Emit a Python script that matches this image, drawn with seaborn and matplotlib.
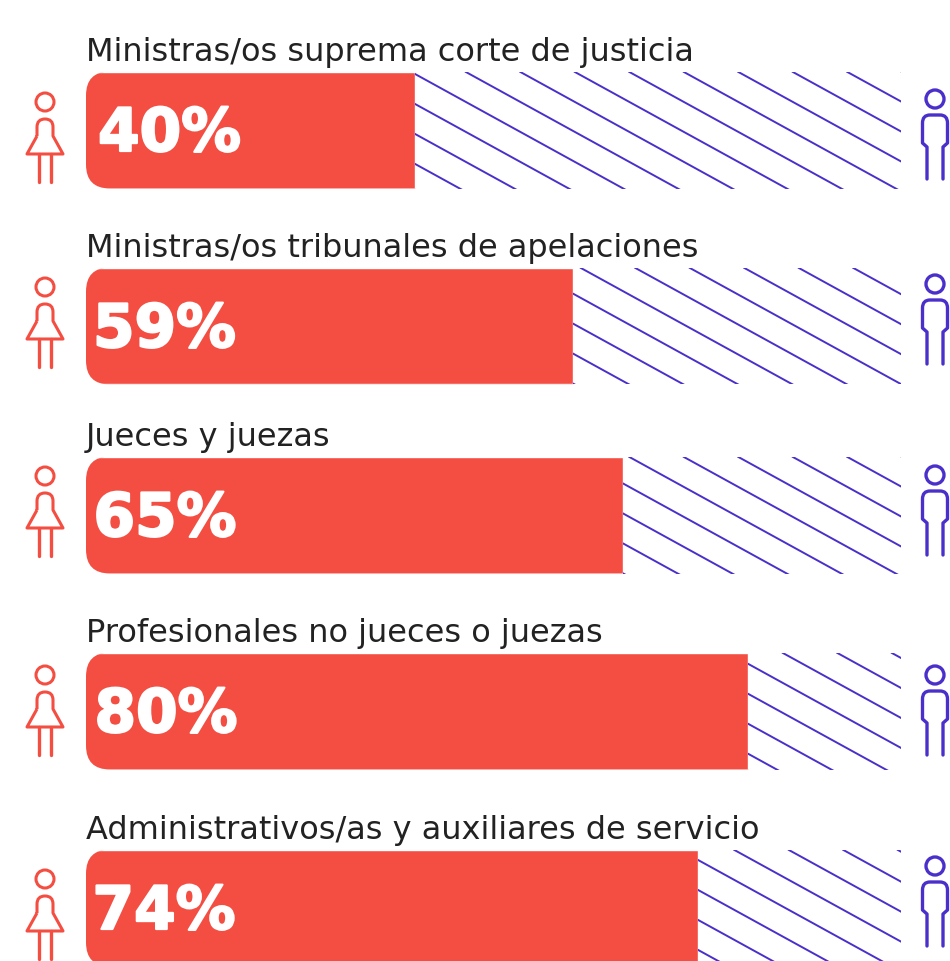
import numpy as np
import pandas as pd
import seaborn as sns
import matplotlib
matplotlib.use("Agg")
import matplotlib.pyplot as plt
import matplotlib.patheffects as pe
from matplotlib.patches import FancyBboxPatch, Circle, PathPatch
from matplotlib.path import Path

categories = ["Ministras/os suprema corte de justicia",
              "Ministras/os tribunales de apelaciones",
              "Jueces y juezas",
              "Profesionales no jueces o juezas",
              "Administrativos/as y auxiliares de servicio"]
women_pct = [40, 59, 65, 80, 74]

RED = "#F44E42"
BLUE = "#4B2FCB"
INK = "#222222"
W, H = 950, 962
bar_tops = [72.5, 268.5, 457.5, 653.5, 850.5]
bar_h = 117
hatch_phase = [465, 471, 465, 455, 461]
label_center = [169.5, 164.5, 165, 166, 164]
woman_head = [103, 288, 477, 676, 880]
man_head = [100, 285, 476, 676, 867]
PX_ZERO, PX_PER_PCT, AX_L, AX_R = 82, 8.325, 86, 902

sns.set_theme(style="white")
plt.rcParams["font.family"] = ["DejaVu Sans"]
fig = plt.figure(figsize=(W / 100, H / 100), dpi=100)
ov = fig.add_axes([0, 0, 1, 1], zorder=10)
ov.set_xlim(0, W); ov.set_ylim(H, 0); ov.axis("off"); ov.patch.set_alpha(0)


def woman(x, y):
    codes = [Path.MOVETO, Path.LINETO, Path.CURVE3, Path.CURVE3, Path.CURVE3, Path.CURVE3,
             Path.LINETO, Path.LINETO, Path.LINETO, Path.LINETO]
    verts = [(x - 8, y + 34), (x - 8, y + 25), (x - 8, y + 17), (x, y + 17), (x + 8, y + 17), (x + 8, y + 25),
             (x + 8, y + 34), (x + 18, y + 52), (x - 18, y + 52), (x - 8, y + 34)]
    ov.add_patch(PathPatch(Path(verts, codes), fc="none", ec=RED, lw=2.2, joinstyle="round"))
    ov.add_patch(Circle((x, y), 9, fc="none", ec=RED, lw=2.2))
    for dx in (-6, 6):
        ov.plot([x + dx, x + dx], [y + 52, y + 80], color=RED, lw=2.4, solid_capstyle="round")


def man(x, y):
    v = [(x - 8, y + 80), (x - 8, y + 48), (x - 12.5, y + 44), (x - 12.5, y + 24),
         (x - 12.5, y + 16), (x - 5, y + 16), (x + 5, y + 16), (x + 12.5, y + 16), (x + 12.5, y + 24),
         (x + 12.5, y + 44), (x + 8, y + 48), (x + 8, y + 80)]
    c = [Path.MOVETO, Path.LINETO, Path.LINETO, Path.LINETO, Path.CURVE3, Path.CURVE3, Path.LINETO,
         Path.CURVE3, Path.CURVE3, Path.LINETO, Path.LINETO, Path.LINETO]
    ov.add_patch(PathPatch(Path(v, c), fc="none", ec=BLUE, lw=2.4, capstyle="round", joinstyle="round"))
    ov.add_patch(Circle((x, y), 9, fc="none", ec=BLUE, lw=2.4))


for i, cat in enumerate(categories):
    top = bar_tops[i]
    ax = fig.add_axes([AX_L / W, 1 - (top + bar_h) / H, (AX_R - AX_L) / W, bar_h / H])
    df = pd.DataFrame({"cat": [cat], "pct": [women_pct[i]]})
    sns.barplot(data=df, x="pct", y="cat", orient="h", color=RED, saturation=1, width=1, ax=ax)
    x_min, x_max = (AX_L - PX_ZERO) / PX_PER_PCT, (AX_R - PX_ZERO - 1) / PX_PER_PCT
    men = ax.barh([0], [x_max - women_pct[i]], left=women_pct[i], height=1, color="none", linewidth=0)[0]
    ax.set_xlim(x_min, (AX_R - PX_ZERO) / PX_PER_PCT)
    ax.set_ylim(0.5, -0.5)
    ax.axis("off")

    # rounded left corners of the red bar
    clip = FancyBboxPatch((AX_L, top), 1000, bar_h, boxstyle="round,pad=0,rounding_size=24",
                          transform=ov.transData, fc="none", ec="none")
    ax.patches[0].set_clip_path(clip)

    # diagonal stripes for the remainder of the bar
    for x0 in np.arange(hatch_phase[i] - 54.5 * 14, AX_R, 54.5):
        ln, = ax.plot([x0, x0 + 800], [top, top + 800 * 0.55], color=BLUE, lw=1.4,
                      transform=ov.transData, solid_capstyle="butt", scalex=False, scaley=False)
        ln.set_clip_path(men)

    ov.text(86, top - 11.5, cat, fontsize=23, color=INK, ha="left", va="baseline")
    t = ov.text(label_center[i], top + bar_h / 2 + 21, f"{women_pct[i]}%", fontsize=43, fontweight="bold",
                color="white", ha="center", va="baseline")
    t.set_path_effects([pe.withStroke(linewidth=1.6, foreground="white")])
    woman(45, woman_head[i])
    man(935, man_head[i])

fig.savefig("out.png", dpi=100, facecolor="white")
